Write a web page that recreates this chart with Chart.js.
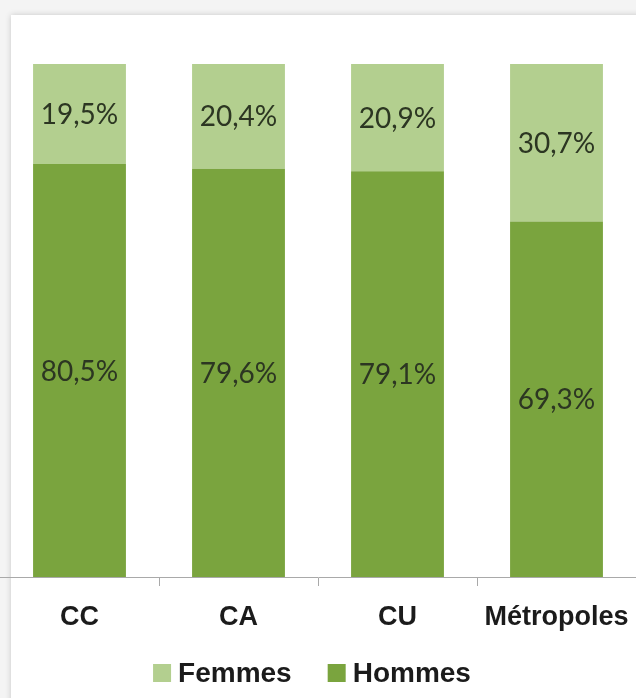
<!DOCTYPE html>
<html lang="fr">
<head>
<meta charset="utf-8">
<title>Répartition femmes / hommes</title>
<script src="https://cdn.jsdelivr.net/npm/chart.js@4.4.1/dist/chart.umd.min.js"></script>
<style>
  html, body { margin: 0; padding: 0; background: #f4f4f4; }
  body { width: 636px; height: 698px; position: relative; overflow: hidden; }
  #panel {
    position: absolute; left: 11px; top: 15px; right: -20px; bottom: -20px;
    background: #ffffff;
    box-shadow: 0 0 6px rgba(0, 0, 0, 0.18);
  }
  #wrap { position: absolute; left: 0; top: 0; width: 636px; height: 698px; }
</style>
</head>
<body>
<div id="panel"></div>
<div id="wrap"><canvas id="chart" width="636" height="698"></canvas></div>
<script>
// Types d'intercommunalité et part des élus par sexe (%)
const categories = ['CC', 'CA', 'CU', 'Métropoles'];
const femmes = [19.5, 20.4, 20.9, 30.7];
const hommes = [80.5, 79.6, 79.1, 69.3];
const seriesNames = ['Femmes', 'Hommes'];

const COLOR_FEMMES = '#b3cf8f';
const COLOR_HOMMES = '#7aa43e';
const LABEL_COLOR = '#2c3622';
const AXIS_COLOR = '#a9a9a9';

const fmtPct = v => v.toFixed(1).replace('.', ',') + '%';

// Value labels centred inside each stacked segment
const segmentLabels = {
  id: 'segmentLabels',
  afterDatasetsDraw(chart) {
    const ctx = chart.ctx;
    ctx.save();
    ctx.font = '28px Lato, "Open Sans", sans-serif';
    ctx.fillStyle = LABEL_COLOR;
    ctx.textAlign = 'center';
    ctx.textBaseline = 'middle';
    chart.data.datasets.forEach((ds, di) => {
      const meta = chart.getDatasetMeta(di);
      meta.data.forEach((bar, i) => {
        const yc = (bar.y + bar.base) / 2;
        ctx.fillText(fmtPct(ds.data[i]), bar.x, yc + 1);
      });
    });
    ctx.restore();
  }
};

// Legend below the axis: Femmes then Hommes, square swatches
const bottomLegend = {
  id: 'bottomLegend',
  afterDraw(chart) {
    const ctx = chart.ctx;
    const box = 18, gapText = 7, gapItem = 36;
    const yMid = 673;
    ctx.save();
    ctx.font = 'bold 28px "Liberation Sans", Arial, sans-serif';
    ctx.textBaseline = 'middle';
    ctx.textAlign = 'left';
    const items = seriesNames.map(name => {
      const ds = chart.data.datasets.find(d => d.label === name);
      return { name, color: ds.backgroundColor, w: box + gapText + ctx.measureText(name).width };
    });
    const total = items.reduce((s, it) => s + it.w, 0) + gapItem * (items.length - 1);
    let x = (chart.width - total) / 2 - 6;
    items.forEach(it => {
      ctx.fillStyle = it.color;
      ctx.fillRect(x, yMid - box / 2, box, box);
      ctx.fillStyle = '#1b1b1b';
      ctx.fillText(it.name, x + box + gapText, yMid + 1);
      x += it.w + gapItem;
    });
    ctx.restore();
  }
};

new Chart(document.getElementById('chart'), {
  type: 'bar',
  data: {
    labels: categories,
    datasets: [
      { label: 'Hommes', data: hommes, backgroundColor: COLOR_HOMMES,
        barPercentage: 0.584, categoryPercentage: 1 },
      { label: 'Femmes', data: femmes, backgroundColor: COLOR_FEMMES,
        barPercentage: 0.584, categoryPercentage: 1 }
    ]
  },
  options: {
    responsive: false,
    animation: false,
    layout: { padding: { top: 64, bottom: 49, left: 0, right: 0 } },
    plugins: {
      legend: { display: false },
      tooltip: { enabled: false },
      title: { display: false }
    },
    scales: {
      x: {
        stacked: true,
        offset: true,
        // category bands span the full canvas width
        afterFit(scale) { scale.paddingLeft = 0; scale.paddingRight = 0; },
        border: { display: true, color: AXIS_COLOR, width: 1 },
        grid: {
          display: true,
          offset: true,
          drawOnChartArea: false,
          drawTicks: true,
          tickLength: 9,
          // no tick mark on the outer left edge
          color: c => (c.index === 0 ? 'rgba(0,0,0,0)' : AXIS_COLOR)
        },
        ticks: {
          color: '#1b1b1b',
          padding: 18,
          font: { family: '"Liberation Sans", Arial, sans-serif', size: 27, weight: 'bold', lineHeight: 1 }
        }
      },
      y: {
        stacked: true,
        display: false,
        min: 0,
        max: 100
      }
    }
  },
  plugins: [segmentLabels, bottomLegend]
});
</script>
</body>
</html>
